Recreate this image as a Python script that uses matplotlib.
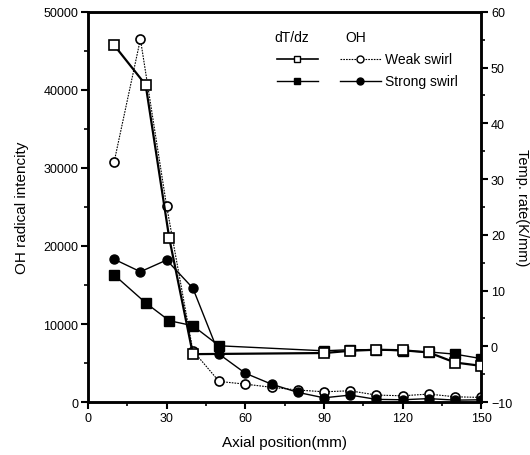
import matplotlib
matplotlib.use("Agg")
import matplotlib.pyplot as plt
from matplotlib.ticker import MultipleLocator

plt.rcParams['font.family'] = ['Liberation Sans', 'DejaVu Sans']

# OH radical intensity (left axis)
x_oh = [10, 20, 30, 40, 50, 60, 70, 80, 90, 100, 110, 120, 130, 140, 150]
oh_weak = [30800, 46500, 25100, 6600, 2650, 2300, 1900, 1550, 1320, 1450, 900, 810, 1030, 680, 600]
oh_strong = [18300, 16700, 18200, 14600, 6150, 3700, 2300, 1250, 550, 900, 350, 300, 450, 250, 300]

# temperature rate dT/dz (right axis)
x_dt_weak = [10, 22, 31, 40, 90, 100, 110, 120, 130, 140, 150]
dt_weak = [54.0, 46.9, 19.4, -1.4, -1.2, -0.8, -0.6, -0.7, -1.1, -2.9, -3.5]
x_dt_strong = [10, 22, 31, 40, 50, 90, 100, 110, 120, 130, 140, 150]
dt_strong = [12.8, 7.8, 4.6, 3.7, 0.1, -0.8, -0.6, -0.6, -0.8, -1.0, -1.4, -2.2]

fig = plt.figure(figsize=(5.3, 4.56), dpi=100)
ax = fig.add_axes([0.166, 0.116, 0.742, 0.856])
ax2 = ax.twinx()

ms = 6.5
# OH curves
ax.plot(x_oh, oh_weak, color='black', lw=0.8, ls=(0, (1.5, 1)), marker='o',
        mfc='white', mec='black', mew=1.2, ms=ms, zorder=3)
ax.plot(x_oh, oh_strong, color='black', lw=1.0, marker='o',
        mfc='black', mec='black', ms=ms, zorder=3)
# dT/dz curves
ax2.plot(x_dt_weak, dt_weak, color='black', lw=1.6, marker='s',
         mfc='white', mec='black', mew=1.2, ms=ms, zorder=4)
ax2.plot(x_dt_strong, dt_strong, color='black', lw=1.0, marker='s',
         mfc='black', mec='black', ms=ms, zorder=3)

ax.set_xlim(0, 150)
ax.set_ylim(0, 50000)
ax2.set_ylim(-10, 60)

ax.xaxis.set_major_locator(MultipleLocator(30))
ax.xaxis.set_minor_locator(MultipleLocator(15))
ax.yaxis.set_major_locator(MultipleLocator(10000))
ax.yaxis.set_minor_locator(MultipleLocator(5000))
ax2.yaxis.set_major_locator(MultipleLocator(10))
ax2.yaxis.set_minor_locator(MultipleLocator(5))

for a in (ax, ax2):
    for s in a.spines.values():
        s.set_linewidth(1.8)
    a.tick_params(which='major', direction='out', length=5, width=1.5, labelsize=9, pad=2)
    a.tick_params(which='minor', direction='out', length=3, width=1.2)
ax.tick_params(axis='y', right=False)
ax.tick_params(axis='x', top=False)

ax.set_xlabel("Axial position(mm)", fontsize=11, labelpad=8)
ax.set_ylabel("OH radical intencity", fontsize=11, labelpad=10)
ax2.set_ylabel("Temp. rate(K/mm)", fontsize=10.5, rotation=270, labelpad=12)

# legend drawn by hand
tr = ax.transAxes
ax.text(0.475, 0.935, "dT/dz", transform=tr, fontsize=10, va='center')
ax.text(0.655, 0.935, "OH", transform=tr, fontsize=10, va='center')
ax.plot([0.48, 0.585], [0.88, 0.88], transform=tr, color='black', lw=1.2, zorder=5)
ax.plot([0.532], [0.88], transform=tr, marker='s', mfc='white', mec='black', ms=5, zorder=6)
ax.plot([0.48, 0.585], [0.823, 0.823], transform=tr, color='black', lw=1.0, zorder=5)
ax.plot([0.532], [0.823], transform=tr, marker='s', mfc='black', mec='black', ms=5, zorder=6)
ax.plot([0.64, 0.745], [0.88, 0.88], transform=tr, color='black', lw=0.8,
        ls=(0, (1.5, 1)), zorder=5)
ax.plot([0.692], [0.88], transform=tr, marker='o', mfc='white', mec='black', ms=5, zorder=6)
ax.plot([0.64, 0.745], [0.823, 0.823], transform=tr, color='black', lw=1.0, zorder=5)
ax.plot([0.692], [0.823], transform=tr, marker='o', mfc='black', mec='black', ms=5, zorder=6)
ax.text(0.755, 0.88, "Weak swirl", transform=tr, fontsize=10, va='center')
ax.text(0.755, 0.823, "Strong swirl", transform=tr, fontsize=10, va='center')

fig.savefig("out.png", dpi=100)
